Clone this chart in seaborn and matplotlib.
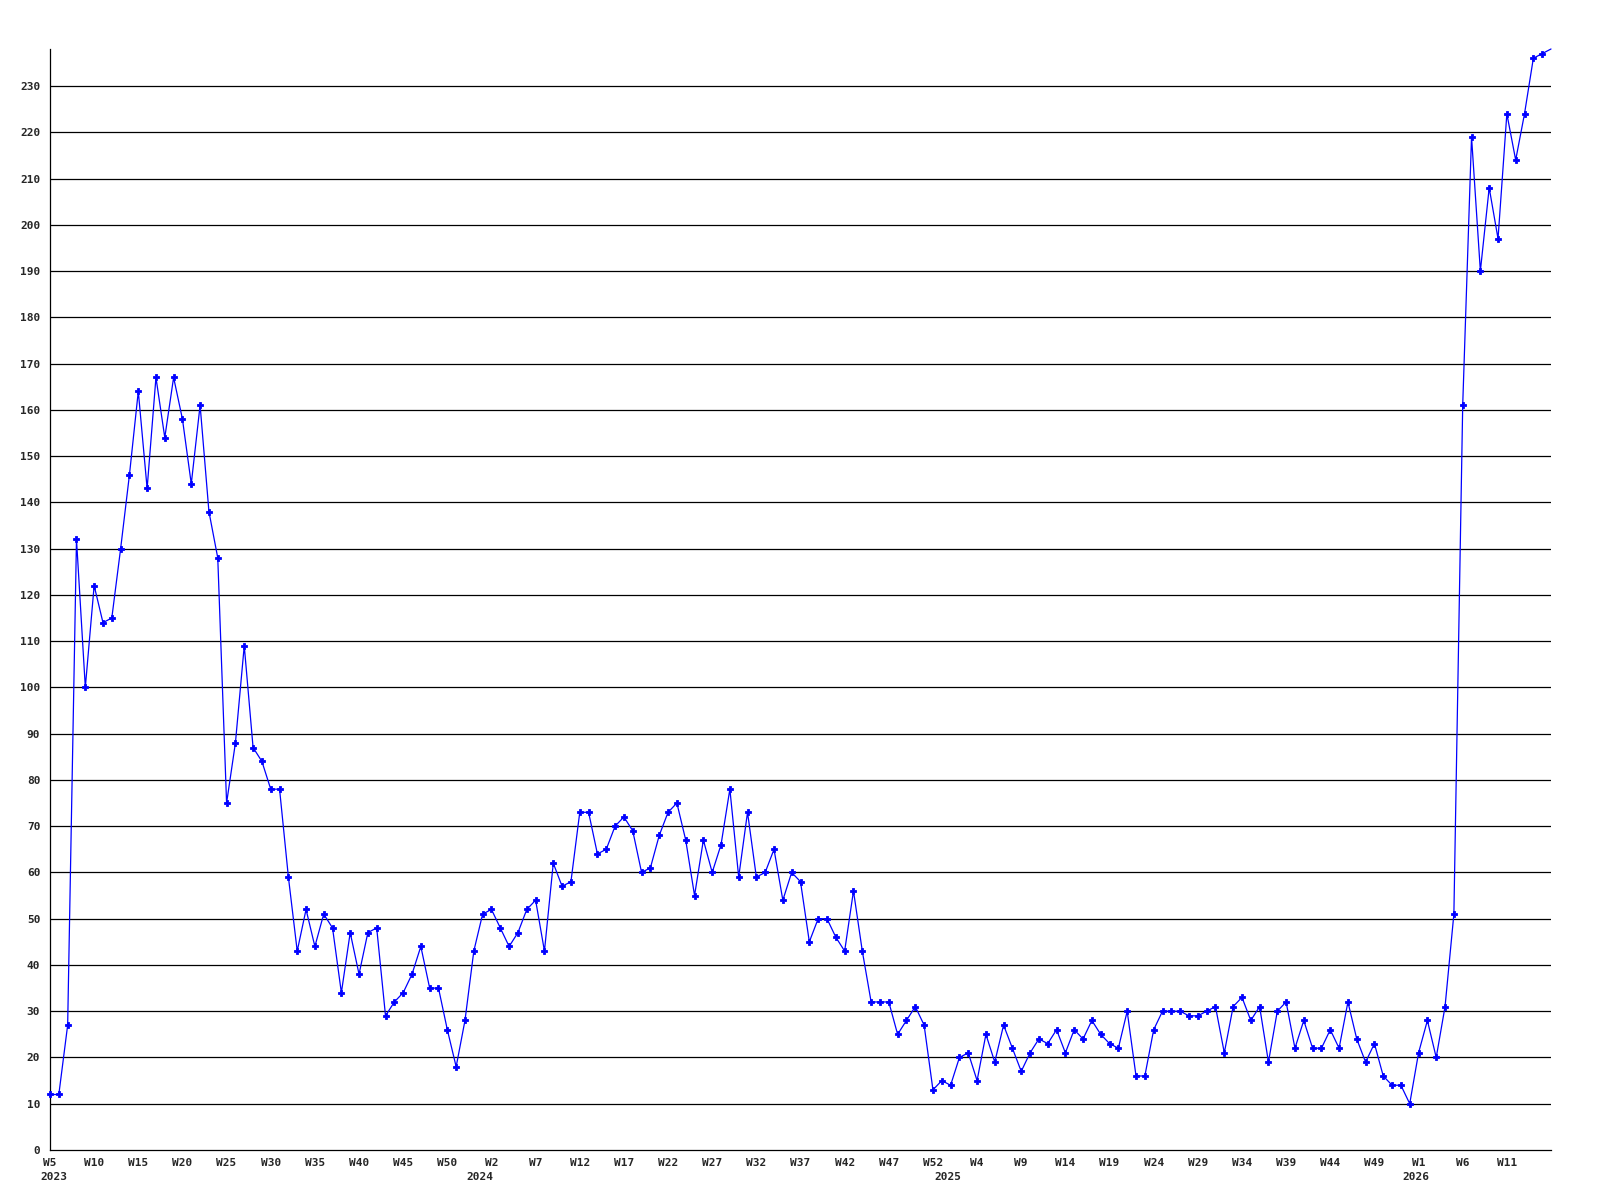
import matplotlib
matplotlib.use("Agg")
import matplotlib.pyplot as plt
import seaborn as sns
import pandas as pd

# ---- data -------------------------------------------------------------
# (year, first week, last week) of the weekly series, in order
year_spans = [(2023, 5, 53), (2024, 1, 53), (2025, 1, 53), (2026, 1, 16)]

counts = [
    12, 12, 27, 132, 100, 122, 114, 115, 130, 146,
    164, 143, 167, 154, 167, 158, 144, 161, 138, 128,
    75, 88, 109, 87, 84, 78, 78, 59, 43, 52,
    44, 51, 48, 34, 47, 38, 47, 48, 29, 32,
    34, 38, 44, 35, 35, 26, 18, 28, 43, 51,
    52, 48, 44, 47, 52, 54, 43, 62, 57, 58,
    73, 73, 64, 65, 70, 72, 69, 60, 61, 68,
    73, 75, 67, 55, 67, 60, 66, 78, 59, 73,
    59, 60, 65, 54, 60, 58, 45, 50, 50, 46,
    43, 56, 43, 32, 32, 32, 25, 28, 31, 27,
    13, 15, 14, 20, 21, 15, 25, 19, 27, 22,
    17, 21, 24, 23, 26, 21, 26, 24, 28, 25,
    23, 22, 30, 16, 16, 26, 30, 30, 30, 29,
    29, 30, 31, 21, 31, 33, 28, 31, 19, 30,
    32, 22, 28, 22, 22, 26, 22, 32, 24, 19,
    23, 16, 14, 14, 10, 21, 28, 20, 31, 51,
    161, 219, 190, 208, 197, 224, 214, 224, 236, 237,
    238,
]

years = []
weeks = []
for y, w0, w1 in year_spans:
    for w in range(w0, w1 + 1):
        years.append(y)
        weeks.append(w)

df = pd.DataFrame({"idx": range(len(counts)), "count": counts,
                   "year": years, "week": weeks})

# ---- style ------------------------------------------------------------
sns.set_style("white")
plt.rcParams["font.family"] = ["DejaVu Sans Mono"]
plt.rcParams["font.weight"] = "bold"
plt.rcParams["font.size"] = 8

fig = plt.figure(figsize=(16, 12), dpi=100)
ax = fig.add_axes([50 / 1600, 1 - 1150 / 1200, (1551 - 50) / 1600, (1150 - 49) / 1200])

# grid lines
ymax = max(counts)
for v in range(10, int(ymax) + 1, 10):
    ax.axhline(v, color="black", lw=0.9, zorder=1)

n = len(df)
sns.lineplot(data=df, x="idx", y="count", ax=ax, color="#0000FF",
             linewidth=0.9, marker="P", markersize=4.5, markeredgewidth=0.6,
             markeredgecolor="#0000FF",
             markevery=list(range(n - 1)), errorbar=None, clip_on=False,
             zorder=3)

ax.set_xlim(0, n - 1)
ax.set_ylim(0, ymax)

for s in ["top", "right"]:
    ax.spines[s].set_visible(False)
for s in ["left", "bottom"]:
    ax.spines[s].set_color("black")
    ax.spines[s].set_linewidth(0.9)

ax.set_yticks(range(0, int(ymax) + 1, 10))
ax.set_yticklabels([str(v) for v in range(0, int(ymax) + 1, 10)],
                   fontweight="bold", fontsize=8)

tick_rows = df.iloc[: n - 1 : 5]
ax.set_xticks(list(tick_rows["idx"]))
ax.set_xticklabels([f"W{w}" for w in tick_rows["week"]], fontweight="bold", fontsize=8)
ax.tick_params(axis="x", length=0, pad=6)
ax.tick_params(axis="y", length=0, pad=7)

# year labels under the first week of each year
first_of_year = df.groupby("year")["idx"].min()
for yr, i in first_of_year.items():
    ax.annotate(str(yr), xy=(i, 0), xycoords=("data", "axes fraction"),
                xytext=(3 if i == 0 else -2, -19.5), textcoords="offset points",
                ha="center", va="center", fontsize=8, fontweight="bold")

ax.set_xlabel("")
ax.set_ylabel("")

fig.savefig("out.png", dpi=100, facecolor="white")
